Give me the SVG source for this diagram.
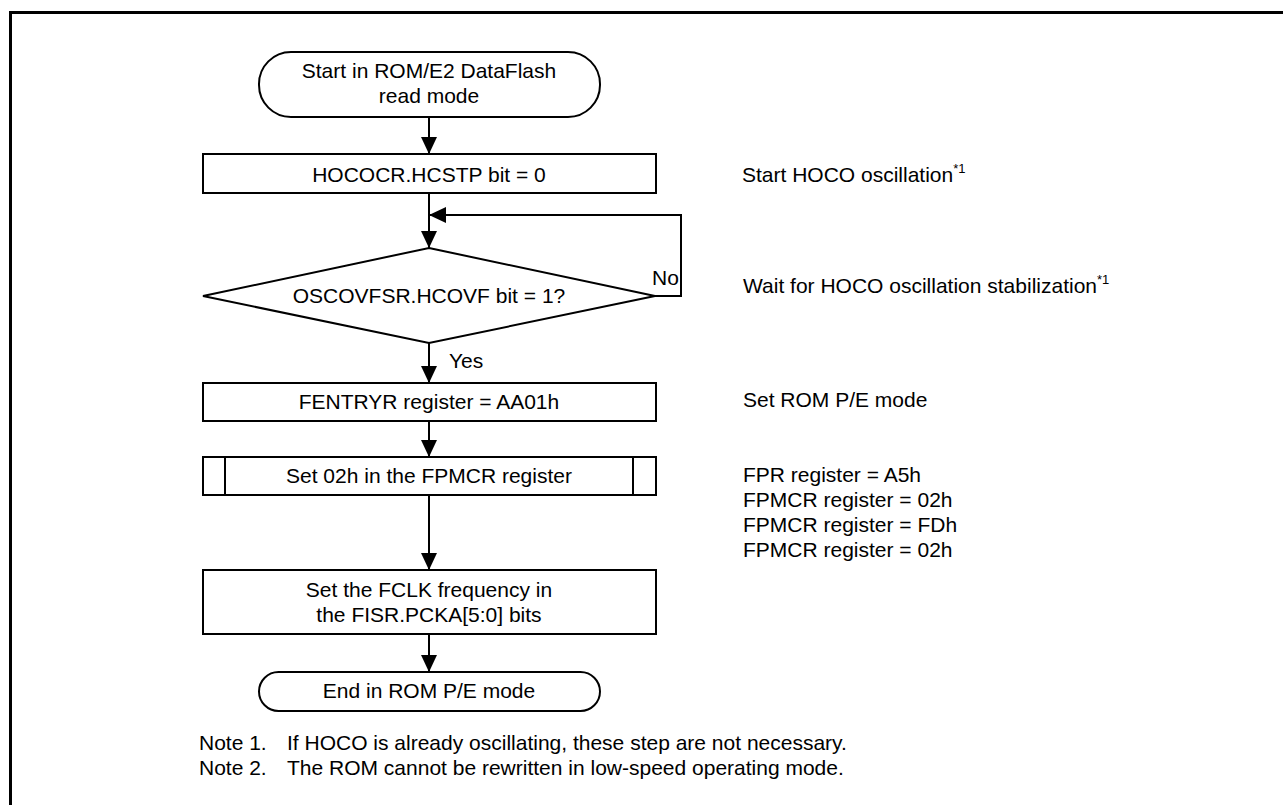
<svg xmlns="http://www.w3.org/2000/svg" width="1283" height="805" viewBox="0 0 1283 805">
<style>
text{font-family:"Liberation Sans",Arial,sans-serif;font-size:21px;fill:#000}
.c{text-anchor:middle}
.sup{font-size:13px}
.shape{fill:#fff;stroke:#000;stroke-width:2}
.conn{fill:none;stroke:#000;stroke-width:2}
</style>
<defs>
<marker id="ah" markerUnits="userSpaceOnUse" markerWidth="17" markerHeight="16" refX="17" refY="8" orient="auto" viewBox="0 0 17 16">
<path d="M0,0 L17,8 L0,16 z" fill="#000"/>
</marker>
</defs>
<rect width="1283" height="805" fill="#fff"/>
<path d="M10.5,806 V12.5 H1284" fill="none" stroke="#000" stroke-width="3"/>
<g id="connectors">
<path class="conn" d="M429,117 V154" marker-end="url(#ah)"/>
<path class="conn" d="M429,193 V248" marker-end="url(#ah)"/>
<path class="conn" d="M655,296 H681 V215 H429" marker-end="url(#ah)"/>
<path class="conn" d="M429,343 V383" marker-end="url(#ah)"/>
<path class="conn" d="M429,421 V457" marker-end="url(#ah)"/>
<path class="conn" d="M429,495 V570" marker-end="url(#ah)"/>
<path class="conn" d="M429,634 V672" marker-end="url(#ah)"/>
<text x="652" y="285">No</text>
<text x="449" y="368">Yes</text>
</g>
<g id="start">
<rect class="shape" x="259" y="52" width="341" height="65" rx="32" ry="32"/>
<text class="c" x="429" y="78">Start in ROM/E2 DataFlash</text>
<text class="c" x="429" y="103">read mode</text>
</g>
<g id="hococr">
<rect class="shape" x="203" y="154" width="453" height="39"/>
<text class="c" x="429" y="182">HOCOCR.HCSTP bit = 0</text>
</g>
<g id="decision">
<polygon class="shape" points="429,248 655,296 429,343 203,296"/>
<text class="c" x="429" y="303">OSCOVFSR.HCOVF bit = 1?</text>
</g>
<g id="fentryr">
<rect class="shape" x="203" y="383" width="453" height="38"/>
<text class="c" x="429" y="409">FENTRYR register = AA01h</text>
</g>
<g id="fpmcr">
<rect class="shape" x="203" y="457" width="453" height="38"/>
<line class="conn" x1="225" y1="457" x2="225" y2="495"/>
<line class="conn" x1="633" y1="457" x2="633" y2="495"/>
<text class="c" x="429" y="483">Set 02h in the FPMCR register</text>
</g>
<g id="fclk">
<rect class="shape" x="203" y="570" width="453" height="64"/>
<text class="c" x="429" y="597">Set the FCLK frequency in</text>
<text class="c" x="429" y="622">the FISR.PCKA[5:0] bits</text>
</g>
<g id="end">
<rect class="shape" x="259" y="672" width="341" height="39" rx="19.5" ry="19.5"/>
<text class="c" x="429" y="698">End in ROM P/E mode</text>
</g>
<g id="annotations">
<text x="742" y="182">Start HOCO oscillation<tspan class="sup" dy="-9">*1</tspan></text>
<text x="743" y="293">Wait for HOCO oscillation stabilization<tspan class="sup" dy="-9">*1</tspan></text>
<text x="743" y="407">Set ROM P/E mode</text>
<text x="743" y="482">FPR register = A5h</text>
<text x="743" y="507">FPMCR register = 02h</text>
<text x="743" y="532">FPMCR register = FDh</text>
<text x="743" y="557">FPMCR register = 02h</text>
</g>
<g id="notes">
<text x="199" y="750">Note 1.</text>
<text x="287" y="750">If HOCO is already oscillating, these step are not necessary.</text>
<text x="199" y="775">Note 2.</text>
<text x="287" y="775">The ROM cannot be rewritten in low-speed operating mode.</text>
</g>
</svg>
